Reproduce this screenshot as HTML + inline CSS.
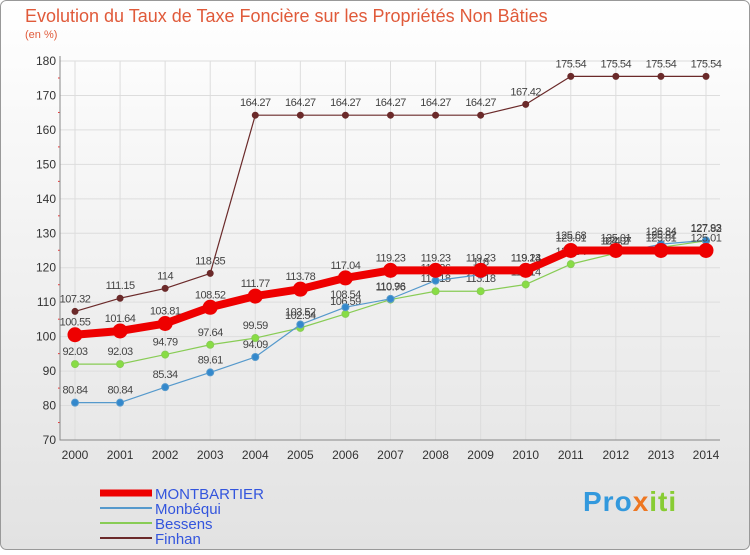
<!DOCTYPE html>
<html><head><meta charset="utf-8"><style>
body{margin:0;width:750px;height:550px;overflow:hidden;font-family:"Liberation Sans",sans-serif}
svg text{font-family:"Liberation Sans",sans-serif}
</style></head><body>
<svg id="c" width="750" height="550" xmlns="http://www.w3.org/2000/svg">
<defs><linearGradient id="bg" x1="0" y1="0" x2="0" y2="1"><stop offset="0" stop-color="#ffffff"/><stop offset="1" stop-color="#e2e2e2"/></linearGradient></defs>
<rect x="0.5" y="0.5" width="749" height="549" rx="6" fill="url(#bg)" stroke="#999"/>
<text x="25" y="22" font-size="18" fill="#e05a3a">Evolution du Taux de Taxe Foncière sur les Propriétés Non Bâties</text>
<text x="25" y="38" font-size="11" fill="#e05a3a">(en %)</text>
<g id="axes"></g><g id="series"></g><g id="legend"></g>
</svg>
<script>
const years=[2000,2001,2002,2003,2004,2005,2006,2007,2008,2009,2010,2011,2012,2013,2014];
const yTicks=[70,80,90,100,110,120,130,140,150,160,170,180];
const montbartier=[100.55,101.64,103.81,108.52,111.77,113.78,117.04,119.23,119.23,119.23,119.23,125.01,125.01,125.01,125.01];
const monbequi=[80.84,80.84,85.34,89.61,94.09,103.52,108.54,110.96,116.26,118,119.14,125.68,124.07,126.84,127.93];
const bessens=[92.03,92.03,94.79,97.64,99.59,102.54,106.59,110.76,113.18,113.18,115.14,121.04,124.2,125.92,127.82];
const finhan=[107.32,111.15,114,118.35,164.27,164.27,164.27,164.27,164.27,164.27,167.42,175.54,175.54,175.54,175.54];
const NS="http://www.w3.org/2000/svg";
const X0=60,X1=720,Y0=440,Y1=61;
const xs=i=>75+i*(706-75)/(years.length-1);
const ys=v=>Y0-(v-70)*(Y0-Y1)/110;
function mk(t,a,p){const e=document.createElementNS(NS,t);for(const k in a)e.setAttribute(k,a[k]);p.appendChild(e);return e;}
const ax=document.getElementById('axes');
const grid=mk('g',{},ax);


yTicks.forEach((v,k)=>{
 mk('line',{x1:X0,x2:X1,y1:ys(v),y2:ys(v),stroke:'#dddddd'},grid);
 const t=mk('text',{x:X0-4,y:ys(v)+4,'font-size':12,'text-anchor':'end',fill:'#333'},ax);t.textContent=v;
 
 
 if(k>0) mk('line',{x1:X0-2,x2:X0,y1:ys(v)+17,y2:ys(v)+17,stroke:'#e33'},ax);
});
years.forEach((y,i)=>{
 mk('line',{x1:xs(i),x2:xs(i),y1:Y1,y2:Y0,stroke:'#dddddd'},grid);
 const t=mk('text',{x:xs(i),y:Y0+19,'font-size':12,'text-anchor':'middle',fill:'#333'},ax);t.textContent=y;
 
 
});
const axl=mk('path',{d:`M${X0} ${Y1-5}V${Y0}H${X1}`,stroke:'#888',fill:'none'},ax);


const S=document.getElementById('series');
function series(name,data,color,w,r,fill){
 const g=mk('g',{},S);
 
 
 mk('polyline',{points:data.map((v,i)=>xs(i)+','+ys(v)).join(' '),fill:'none',stroke:color,'stroke-width':w,'stroke-linejoin':'round'},g);
 data.forEach((v,i)=>{
  const c=mk('circle',{cx:xs(i),cy:ys(v),r:r,fill:fill,stroke:color,'stroke-width':1},g);
  
  
  const t=mk('text',{x:xs(i),y:ys(v)-9,'font-size':11,'text-anchor':'middle',fill:'#444','letter-spacing':'-0.5'},g);
  t.textContent=v;
  
  
 });
}
series('finhan',finhan,'#6b2a2a',1.2,3,'#6b2a2a');
series('bessens',bessens,'#88cc55',1.2,3.5,'#88dd44');
series('monbequi',monbequi,'#5599cc',1.2,3.5,'#3388cc');
series('montbartier',montbartier,'#ee0000',8,7,'#ee0000');
const L=document.getElementById('legend');
const items=[['MONTBARTIER','#ee0000',7],['Monbéqui','#5599cc',2],['Bessens','#88cc55',2],['Finhan','#6b2a2a',2]];
items.forEach((it,i)=>{
 const y=493+i*15;
 const g=mk('g',{},L);
 
 
 mk('line',{x1:100,x2:152,y1:y,y2:y,stroke:it[1],'stroke-width':it[2]},g);
 const t=mk('text',{x:155,y:y+6,'font-size':15,fill:'#3355dd'},g);t.textContent=it[0];
});
</script>
<div style="position:absolute;left:583px;top:486px;font-size:28px;font-weight:bold;font-family:'Liberation Sans',sans-serif;letter-spacing:1px"><span style="color:#3399dd">Pro</span><span style="color:#ee7722">x</span><span style="color:#88cc33">iti</span></div>
</body></html>
